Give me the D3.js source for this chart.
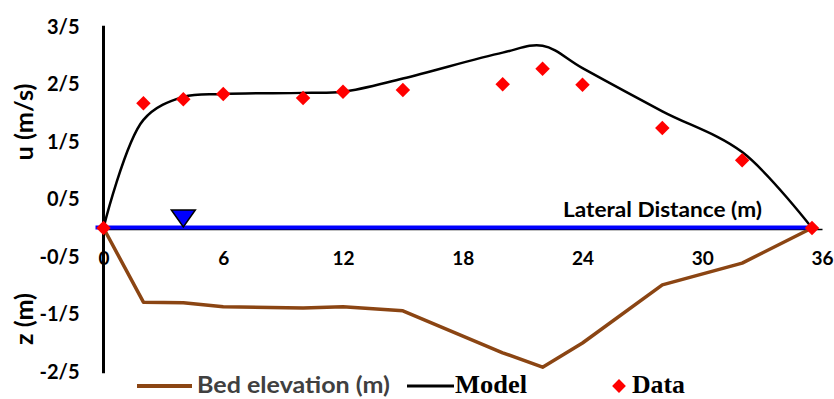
<!DOCTYPE html>
<html><head><meta charset="utf-8">
<script src="https://cdn.jsdelivr.net/npm/d3@7"></script>
<style>body{margin:0;background:#fff}svg{display:block}</style>
</head><body>
<svg id="c" width="834" height="399"></svg>
<script>
const stations = [0, 2, 4, 6, 10, 12, 15, 20, 22, 24, 28, 32, 35.5];
const dataU   = [0, 2.17, 2.24, 2.33, 2.26, 2.37, 2.40, 2.50, 2.77, 2.49, 1.74, 1.18, 0];
const modelU  = [0, 1.88, 2.28, 2.33, 2.35, 2.37, 2.60, 3.05, 3.17, 2.78, 2.03, 1.32, 0];
const bedZ    = [0, -1.29, -1.30, -1.37, -1.39, -1.37, -1.44, -2.17, -2.42, -2.00, -0.99, -0.61, 0];
const xTicks = [0, 6, 12, 18, 24, 30, 36];
const yTicks = [3.5, 2.5, 1.5, 0.5, -0.5, -1.5, -2.5];
const yTickLabels = ["3/5", "2/5", "1/5", "0/5", "-0/5", "-1/5", "-2/5"];
const waterLevelX = 4;

const svg = d3.select("#c");
const x = d3.scaleLinear().domain([0, 36]).range([103.5, 822]);
const y = d3.scaleLinear().domain([-2.5, 3.5]).range([371.75, 26.75]);
const font = "Lato, 'Open Sans', sans-serif";
const serif = "'Liberation Serif', 'Times New Roman', serif";

// y axis
const ya = svg.append("g").attr("transform", `translate(${x(0)},0)`)
  .call(d3.axisLeft(y).tickValues(yTicks).tickSize(0).tickPadding(24)
    .tickFormat((d, i) => yTickLabels[i]));
ya.select(".domain").attr("stroke", "#000").attr("stroke-width", 3)
  .attr("d", `M0,${y(-2.5)+1.5}V${y(3.5)-1}`);
ya.selectAll("text").attr("font-family", font).attr("font-weight", "bold")
  .attr("font-size", 20).attr("fill", "#000");

// x axis
const xa = svg.append("g").attr("transform", `translate(0,${y(0)+1})`)
  .call(d3.axisBottom(x).tickValues(xTicks).tickSize(0).tickPadding(23));
xa.select(".domain").attr("stroke", "#000").attr("stroke-width", 1.5);
xa.selectAll("text").attr("font-family", font).attr("font-weight", "bold")
  .attr("font-size", 19).attr("fill", "#000");

// bed elevation
svg.append("path").datum(stations.map((s, i) => [s, bedZ[i]]))
  .attr("fill", "none").attr("stroke", "#8B4513").attr("stroke-width", 3.5)
  .attr("stroke-linejoin", "round")
  .attr("d", d3.line().x(d => x(d[0])).y(d => y(d[1])));

// model
svg.append("path").datum(stations.map((s, i) => [s, modelU[i]]))
  .attr("fill", "none").attr("stroke", "#000").attr("stroke-width", 2.5)
  .attr("d", d3.line().x(d => x(d[0])).y(d => y(d[1])).curve(d3.curveCatmullRom.alpha(0.5)));

// water surface
svg.append("line").attr("x1", x(-0.4)).attr("x2", x(35.5))
  .attr("y1", y(0) - 0.5).attr("y2", y(0) - 0.5)
  .attr("stroke", "#0000FF").attr("stroke-width", 4);
const tx = x(waterLevelX), ty = y(0) - 1;
svg.append("path")
  .attr("d", `M${tx-12},${ty-17}L${tx+12},${ty-17}L${tx},${ty}Z`)
  .attr("fill", "#0000FF").attr("stroke", "#000").attr("stroke-width", 1.5);

// data diamonds
svg.append("g").selectAll("path").data(stations.map((s, i) => [s, dataU[i]]))
  .join("path")
  .attr("d", d3.symbol().type(d3.symbolSquare).size(105))
  .attr("transform", d => `translate(${x(d[0])},${y(d[1])}) rotate(45)`)
  .attr("fill", "#FF0000");

// axis titles
svg.append("text").attr("transform", "translate(33,122) rotate(-90)")
  .attr("text-anchor", "middle").attr("font-family", font).attr("font-weight", "bold")
  .attr("font-size", 25).attr("textLength", 77).attr("lengthAdjust", "spacingAndGlyphs")
  .text("u (m/s)");
svg.append("text").attr("transform", "translate(33,319) rotate(-90)")
  .attr("text-anchor", "middle").attr("font-family", font).attr("font-weight", "bold")
  .attr("font-size", 25).attr("textLength", 52).attr("lengthAdjust", "spacingAndGlyphs")
  .text("z (m)");
svg.append("text").attr("x", 563).attr("y", 217)
  .attr("font-family", font).attr("font-weight", "bold").attr("font-size", 21)
  .attr("textLength", 199).attr("lengthAdjust", "spacingAndGlyphs")
  .text("Lateral Distance (m)");

// legend
const lg = svg.append("g");
lg.append("line").attr("x1", 137).attr("x2", 192).attr("y1", 386).attr("y2", 386)
  .attr("stroke", "#8B4513").attr("stroke-width", 4);
lg.append("text").attr("x", 197).attr("y", 393).attr("font-family", font)
  .attr("font-weight", "bold").attr("font-size", 23).attr("fill", "#404040")
  .attr("textLength", 193).attr("lengthAdjust", "spacingAndGlyphs")
  .text("Bed elevation (m)");
lg.append("line").attr("x1", 407).attr("x2", 454).attr("y1", 386).attr("y2", 386)
  .attr("stroke", "#000").attr("stroke-width", 3);
lg.append("text").attr("x", 455).attr("y", 393).attr("font-family", serif)
  .attr("font-weight", "bold").attr("font-size", 25).attr("fill", "#000")
  .attr("textLength", 72).attr("lengthAdjust", "spacingAndGlyphs")
  .text("Model");
lg.append("path").attr("d", d3.symbol().type(d3.symbolSquare).size(95))
  .attr("transform", "translate(619,386) rotate(45)").attr("fill", "#FF0000");
lg.append("text").attr("x", 632).attr("y", 393).attr("font-family", serif)
  .attr("font-weight", "bold").attr("font-size", 25).attr("fill", "#000")
  .attr("textLength", 53).attr("lengthAdjust", "spacingAndGlyphs")
  .text("Data");
</script>
</body></html>
